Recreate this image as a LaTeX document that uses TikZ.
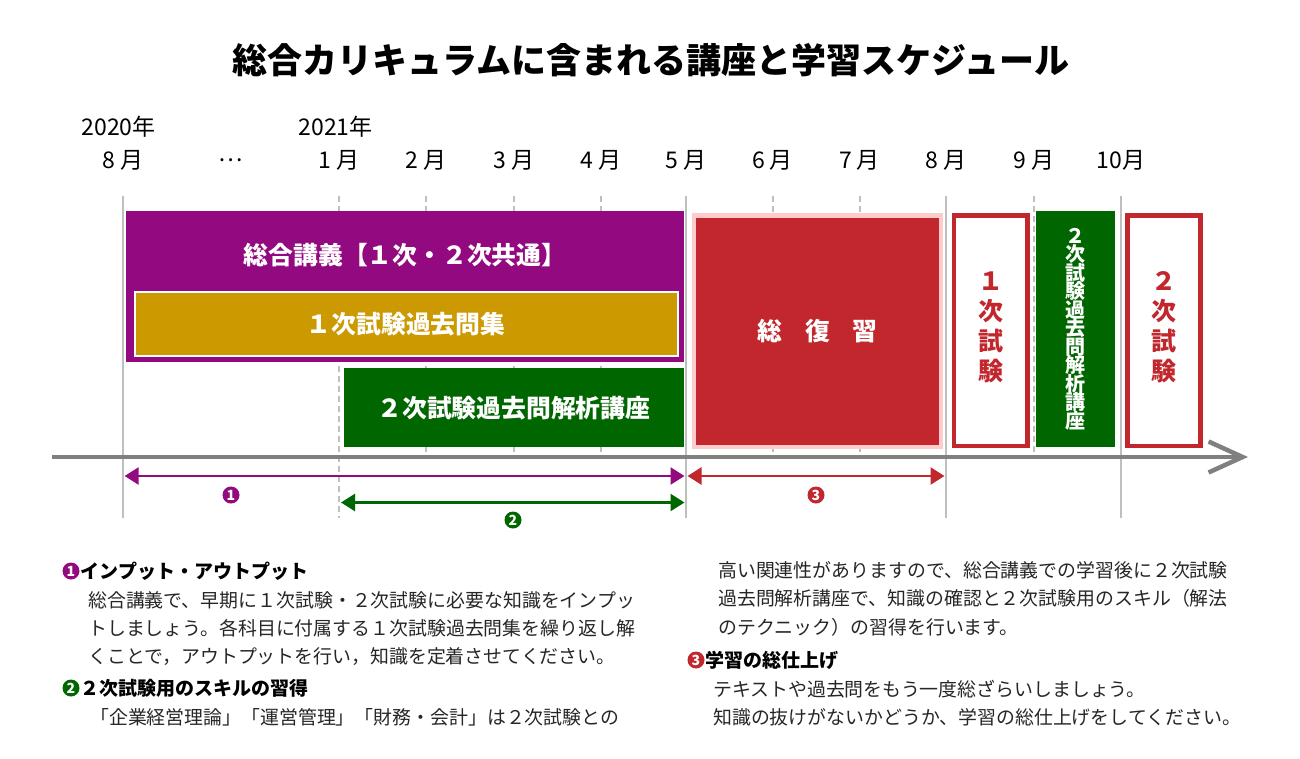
\documentclass[tikz,border=0pt]{standalone}
\usepackage{fontspec}
\setmainfont{Noto Sans CJK JP}
\usetikzlibrary{positioning, arrows.meta, calc}
\definecolor{kougipurple}{RGB}{147, 9, 127}
\definecolor{kakomongold}{RGB}{204, 153, 0}
\definecolor{kaisekigreen}{RGB}{0, 102, 0}
\definecolor{shikenred}{RGB}{193, 39, 45}
\definecolor{reviewpink}{RGB}{255, 204, 204}
\definecolor{axisgray}{RGB}{128, 128, 128}
\definecolor{tickgray}{RGB}{191, 191, 191}
\definecolor{bodygray}{RGB}{38, 38, 38}
\newcommand{\tightlines}{\lineskiplimit-20pt\relax}

\begin{document}
\begin{tikzpicture}[
    x=1pt, y=-1pt, % 1 unit = 1 px of the layout, y downwards
    box/.style={ % filled course block, fill colour as argument
        rectangle,
        draw=none,
        fill=#1,
        anchor=north west,
        inner sep=0pt
    },
    boxlabel/.style={text=white, font=\fontsize{24.8}{30}\selectfont\bfseries},
    examframe/.style={ % white exam block with red frame
        rectangle,
        draw=shikenred,
        line width=4.7pt,
        fill=white,
        anchor=north west,
        inner sep=0pt
    },
    examlabel/.style={text=shikenred, align=center, font=\fontsize{25}{30}\selectfont\bfseries},
    % grid lines of the months
    ticksolid/.style={draw=tickgray, line width=2pt},
    tickdashed/.style={draw=tickgray, line width=2pt, dash pattern=on 6pt off 4pt},
    % time axis and period arrows
    timeaxis/.style={draw=axisgray, line width=4.5pt, -{Straight Barb[length=34pt, width=31pt, line width=4.5pt]}},
    span/.style={draw=#1, line width=2.5pt, arrows={Triangle[length=14pt, width=17pt]-Triangle[length=14pt, width=17pt]}},
    circnum/.style={circle, fill=#1, inner sep=0pt, minimum size=17pt, text=white, font=\fontsize{14}{14}\selectfont\bfseries},
    monthlabel/.style={font=\fontsize{23}{26}\selectfont},
    heading/.style={font=\fontsize{19}{22}\selectfont\bfseries, inner sep=0pt},
    bodytext/.style={font=\fontsize{18.9}{28.4}\selectfont, text=bodygray, align=left, inner sep=0pt, anchor=north west}
]
\fill[white] (0,0) rectangle (1300,758);
\useasboundingbox (0,0) rectangle (1300,758);

% Title
\node[font=\fontsize{35}{40}\selectfont\bfseries] (title) at (651,60) {総合カリキュラムに含まれる講座と学習スケジュール};

% Years and months
\node[monthlabel, anchor=west] (y2020) at (78,127) {2020年};
\node[monthlabel, anchor=west] (y2021) at (295,127) {2021年};
\foreach \x/\mon [count=\i] in {122.6/8 月, 231/…, 339/1 月, 426/2 月, 514/3 月, 601/4 月, 686/5 月, 772.5/6 月, 859.5/7 月, 946/8 月, 1033.6/9 月, 1121/10月}
    \node[monthlabel] (mon\i) at (\x,160) {\mon};

% Month grid lines
\foreach \x in {122.6, 686, 946, 1121}
    \draw[ticksolid] (\x,196) -- (\x,518);
\foreach \x in {426, 514, 601, 772.5, 859.5, 1033.6}
    \draw[tickdashed] (\x,196) -- (\x,457);
\draw[tickdashed] (339,196) -- (339,518);

% Course blocks
\node[box=kougipurple, minimum width=558pt, minimum height=151pt] (sougou) at (126,211) {};
\node[boxlabel] (sougoulabel) at (405,255) {総合講義【１次・２次共通】};
\node[box=kakomongold, draw=white, line width=2pt, minimum width=543pt, minimum height=64pt] (kakomon) at (133.5,291) {};
\node[boxlabel] at (kakomon.center) {１次試験過去問集};
\node[box=kaisekigreen, minimum width=340.5pt, minimum height=79pt] (kaiseki) at (343.5,368) {};
\node[boxlabel] at (kaiseki.center) {２次試験過去問解析講座};

% Review and exams
\node[box=shikenred, draw=reviewpink, line width=4.5pt, minimum width=247pt, minimum height=231.7pt] (review) at (691.7,213) {};
\node[boxlabel] at (review.center) {総\hspace{0.9em}復\hspace{0.9em}習};
\node[examframe, minimum width=73.8pt, minimum height=230.7pt] (exam1) at (951.6,213) {};
\node[examlabel] at ($(exam1.center)+(0,-3)$) {１\\次\\試\\験};
\node[box=kaisekigreen, minimum width=78.3pt, minimum height=236pt] (kaiseki2) at (1036,211) {};
\node[boxlabel, align=center, font=\fontsize{20}{18.5}\selectfont\bfseries\tightlines] at (kaiseki2.center) {２\\次\\試\\験\\過\\去\\問\\解\\析\\講\\座};
\node[examframe, minimum width=73pt, minimum height=230.7pt] (exam2) at (1125.3,213) {};
\node[examlabel] at ($(exam2.center)+(0,-3)$) {２\\次\\試\\験};

% Time axis
\coordinate (axisstart) at (52,457);
\coordinate (axisend) at (1248,457);
\draw[timeaxis] (axisstart) -- (axisend);

% Period arrows
\coordinate (span1a) at (124.6,476);
\coordinate (span1b) at (684.5,476);
\coordinate (span2a) at (341,502.5);
\coordinate (span2b) at (684.5,502.5);
\coordinate (span3a) at (687.5,476);
\coordinate (span3b) at (944.5,476);
\draw[span=kougipurple] (span1a) -- (span1b);
\draw[span=kaisekigreen] (span2a) -- (span2b);
\draw[span=shikenred] (span3a) -- (span3b);
\node[circnum=kougipurple] (num1) at (231,495) {1};
\node[circnum=kaisekigreen] (num2) at (513,520) {2};
\node[circnum=shikenred] (num3) at (816,495) {3};

% Notes, left column
\node[circnum=kougipurple] (h1num) at (71,571) {1};
\node[heading, right=1pt of h1num] (h1) {インプット・アウトプット};
\node[bodytext] (body1) at (88,591) {総合講義で、早期に１次試験・２次試験に必要な知識をインプッ\\トしましょう。各科目に付属する１次試験過去問集を繰り返し解\\くことで，アウトプットを行い，知識を定着させてください。};
\node[circnum=kaisekigreen] (h2num) at (71,688) {2};
\node[heading, right=1pt of h2num] (h2) {２次試験用のスキルの習得};
\node[bodytext] (body2) at (90,708) {「企業経営理論」「運営管理」「財務・会計」は２次試験との};

% Notes, right column
\node[bodytext] (body2b) at (718,561) {高い関連性がありますので、総合講義での学習後に２次試験\\過去問解析講座で、知識の確認と２次試験用のスキル（解法\\のテクニック）の習得を行います。};
\node[circnum=shikenred] (h3num) at (696,660) {3};
\node[heading, right=1pt of h3num] (h3) {学習の総仕上げ};
\node[bodytext] (body3) at (713,680) {テキストや過去問をもう一度総ざらいしましょう。\\知識の抜けがないかどうか、学習の総仕上げをしてください。};
\end{tikzpicture}
\end{document}
